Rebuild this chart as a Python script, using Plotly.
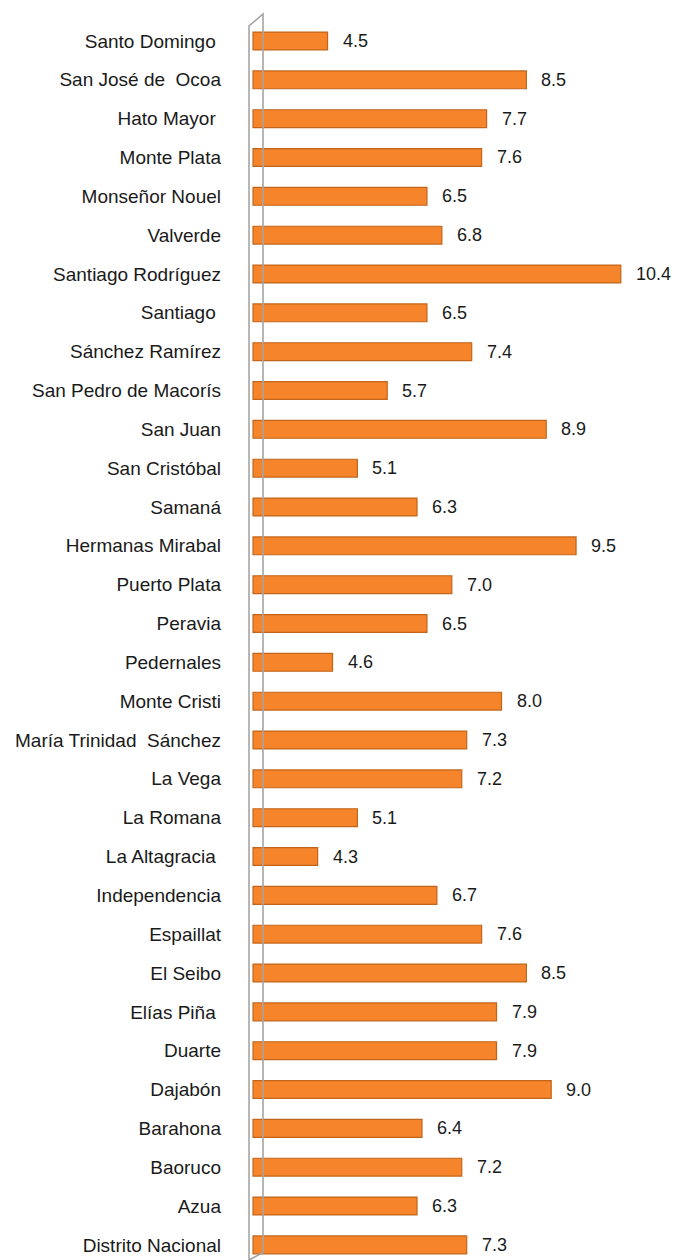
import plotly.graph_objects as go

provinces = [
    "Santo Domingo\u00a0", "San José de\u00a0 Ocoa", "Hato Mayor\u00a0", "Monte Plata",
    "Monseñor Nouel", "Valverde", "Santiago Rodríguez", "Santiago\u00a0",
    "Sánchez Ramírez", "San Pedro de Macorís", "San Juan", "San Cristóbal",
    "Samaná", "Hermanas Mirabal", "Puerto Plata", "Peravia", "Pedernales",
    "Monte Cristi", "María Trinidad\u00a0 Sánchez", "La Vega", "La Romana",
    "La Altagracia\u00a0", "Independencia", "Espaillat", "El Seibo",
    "Elías Piña\u00a0", "Duarte", "Dajabón", "Barahona", "Baoruco", "Azua",
    "Distrito Nacional",
]
values = [
    4.5, 8.5, 7.7, 7.6, 6.5, 6.8, 10.4, 6.5, 7.4, 5.7, 8.9, 5.1, 6.3, 9.5,
    7.0, 6.5, 4.6, 8.0, 7.3, 7.2, 5.1, 4.3, 6.7, 7.6, 8.5, 7.9, 7.9, 9.0,
    6.4, 7.2, 6.3, 7.3,
]
value_labels = [f"{v:.1f}" for v in values]
AXIS_MIN = 3.0

FONT = "Liberation Sans"
fig = go.Figure()
fig.add_trace(go.Bar(
    x=[v - AXIS_MIN for v in values], base=AXIS_MIN, y=provinces,
    orientation="h", width=0.46,
    marker=dict(color="#F5842A", line=dict(color="#C2651C", width=1.2)),
    hoverinfo="skip",
))

for p, v, t in zip(provinces, values, value_labels):
    fig.add_annotation(x=v, y=p, text=t, showarrow=False, xanchor="left",
                       xshift=13, font=dict(family=FONT, size=18, color="#1a1a1a"))

# 3D-style axis wall (decoration anchored at the axis minimum)
wall = dict(type="path", xref="x", yref="paper", xsizemode="pixel", xanchor=AXIS_MIN,
            line=dict(color="#A5A5A5", width=1.6), layer="above")
fig.add_shape(path="M-4,0 L-4,0.9904 L10,1 L10,0.006 L-4,0", **wall)

fig.update_layout(
    width=676, height=1260,
    margin=dict(l=240, r=0, t=14, b=0),
    paper_bgcolor="white", plot_bgcolor="white",
    showlegend=False,
    xaxis=dict(range=[2.738, 11.511], visible=False),
    yaxis=dict(
        range=[31.39, -0.695], type="category",
        showgrid=False, zeroline=False, showline=False, ticks="",
        ticklabelstandoff=18,
        tickfont=dict(family=FONT, size=19, color="#1a1a1a"),
    ),
)
fig.write_html("out.html", config={"displayModeBar": False},
               post_script="document.body.style.margin='0';document.body.style.overflow='hidden';")
